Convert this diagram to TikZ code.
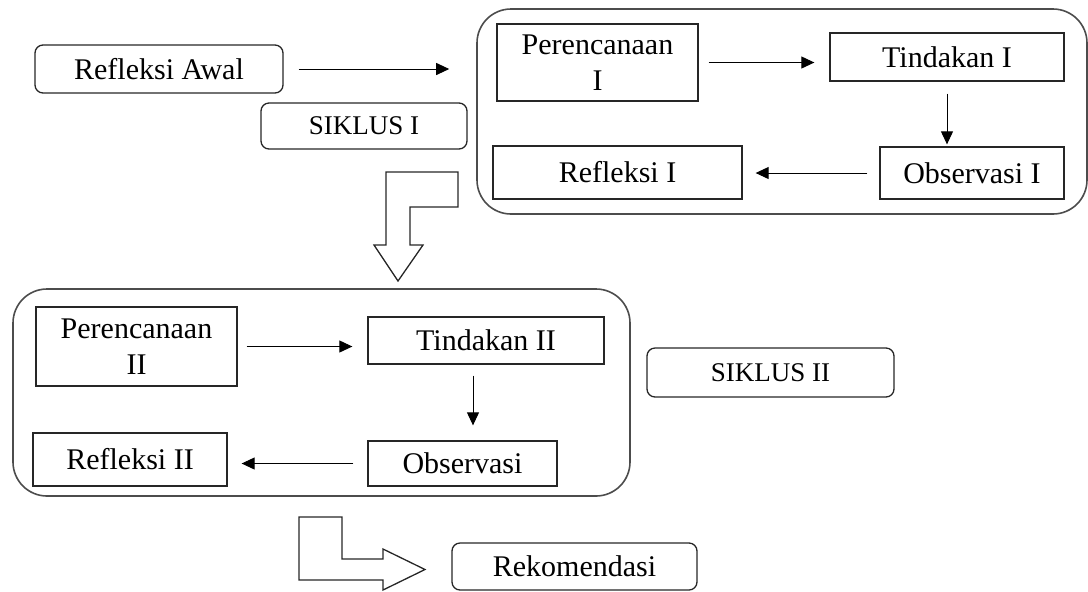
\documentclass[tikz,border=0pt]{standalone}
\usepackage{fontspec}
\setmainfont{Liberation Serif}
\usetikzlibrary{arrows.meta}

\begin{document}
\begin{tikzpicture}[x=0.5pt, y=-0.5pt,
    box/.style={draw=black!85, line width=0.65pt, inner sep=0pt, align=center,
                font=\fontsize{15}{18}\selectfont},
    rbox/.style={box, rounded corners=4pt},
    siklus/.style={rbox, font=\fontsize{13.5}{16}\selectfont},
    bigbox/.style={draw=black!70, line width=0.8pt, rounded corners=17pt, inner sep=0pt},
    arr/.style={->, >={Triangle[length=6.5pt, width=6pt]}, line width=0.5pt},
    blockarrow/.style={draw=black!85, line width=0.65pt}]
  \useasboundingbox (0,0) rectangle (1088,591);

  % awal dan siklus I
  \node[rbox, minimum width=124pt, minimum height=24pt] (awal) at (159,69) {Refleksi Awal};
  \node[siklus, minimum width=103pt, minimum height=23pt] (siklusA) at (364,126) {SIKLUS I};
  \node[bigbox, minimum width=305pt, minimum height=102.5pt] (box1) at (782,111.5) {};
  \node[box, minimum width=100.5pt, minimum height=38.5pt] (per1) at (597.5,62.5) {Perencanaan\\I};
  \node[box, minimum width=117pt, minimum height=24pt] (tin1) at (947,57) {Tindakan I};
  \node[box, minimum width=92pt, minimum height=26pt] (obs1) at (972,173) {Observasi I};
  \node[box, minimum width=124.5pt, minimum height=26.5pt] (ref1) at (617.5,172.5) {Refleksi I};
  \draw[arr, shorten <=7.5pt, shorten >=13.5pt] (awal.east) -- (awal.east -| box1.west);
  \draw[arr, shorten <=5pt, shorten >=7.5pt] (per1.east) -- (per1.east -| tin1.west);
  \draw[arr, shorten <=6pt, shorten >=1pt] (tin1.south) -- (tin1.south |- obs1.north);
  \draw[arr, shorten <=6pt, shorten >=6.5pt] (obs1.west) -- (obs1.west -| ref1.east);

  % panah ke siklus II
  \draw[blockarrow] (458,172) -- (386,172) -- (386,245) -- (374,245) -- (398,281)
    -- (423,245) -- (410,245) -- (410,207) -- (458,207) -- cycle;

  % siklus II
  \node[bigbox, minimum width=308.5pt, minimum height=103.5pt] (box2) at (321.5,392.5) {};
  \node[box, minimum width=100.5pt, minimum height=39.5pt] (per2) at (136.5,346.5) {Perencanaan\\II};
  \node[box, minimum width=118pt, minimum height=23.5pt] (tin2) at (486,340.5) {Tindakan II};
  \node[box, minimum width=94.5pt, minimum height=22.5pt] (obs2) at (462.5,463.5) {Observasi};
  \node[box, minimum width=97pt, minimum height=26.5pt] (ref2) at (130,459.5) {Refleksi II};
  \node[siklus, minimum width=123.5pt, minimum height=24.5pt] (siklusB) at (770.5,372.5) {SIKLUS II};
  \draw[arr, shorten <=4.5pt, shorten >=7.5pt] (per2.east) -- (per2.east -| tin2.west);
  \draw[arr, shorten <=5.5pt, shorten >=7.5pt] ([xshift=-6.5pt]tin2.south) -- ([xshift=-6.5pt]tin2.south |- obs2.north);
  \draw[arr, shorten <=7pt, shorten >=7pt] (obs2.west) -- (obs2.west -| ref2.east);

  % rekomendasi
  \draw[blockarrow] (299,517) -- (342,517) -- (342,559) -- (383,559) -- (383,549)
    -- (425,569.5) -- (383,590) -- (383,580) -- (299,580) -- cycle;
  \node[rbox, minimum width=122.5pt, minimum height=23.5pt] (rek) at (574.5,566.5) {Rekomendasi};
\end{tikzpicture}
\end{document}
